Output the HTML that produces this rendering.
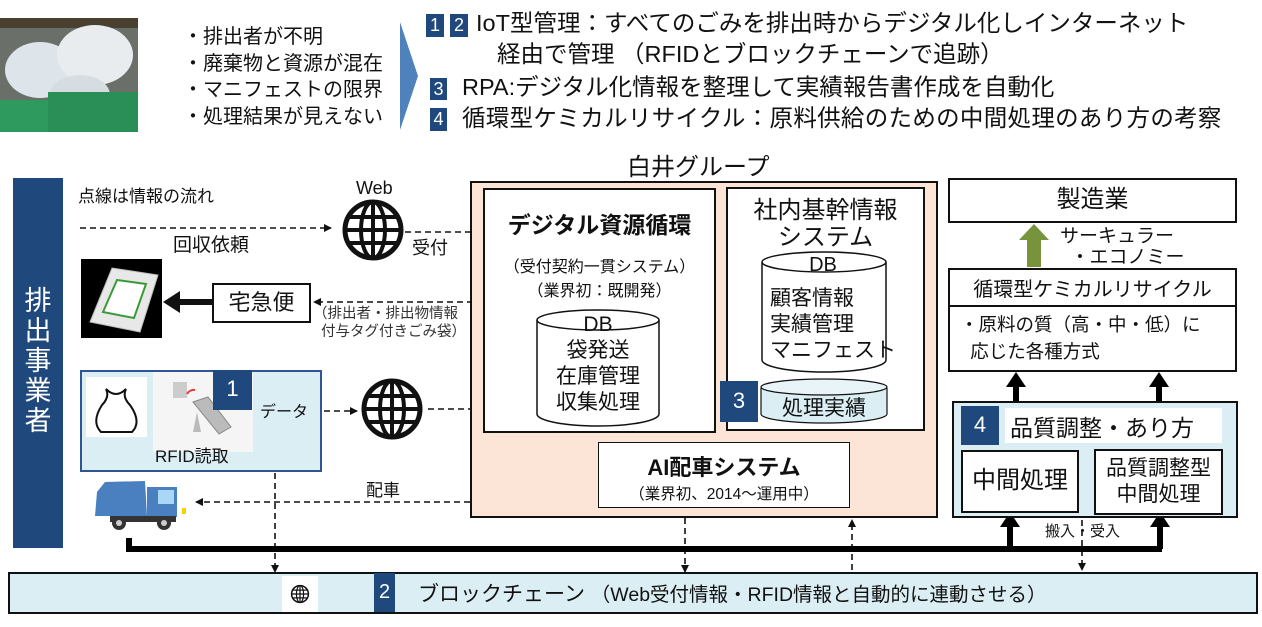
<!DOCTYPE html>
<html><head><meta charset="utf-8"><style>
body{margin:0;width:1262px;height:627px;background:#fff;position:relative;overflow:hidden;font-family:"Liberation Sans","Noto Sans CJK JP",sans-serif;color:#111}
.a{position:absolute;white-space:nowrap}
.box{position:absolute;box-sizing:border-box;border:2.5px solid #111;background:#fff}
.bd{position:absolute;background:#1f497d;color:#fff;text-align:center;font-size:18px}
</style></head><body>
<svg class="a" style="left:0;top:0" width="1262" height="627">
<defs>
<marker id="ah" markerWidth="8" markerHeight="8" refX="7" refY="4" orient="auto" markerUnits="userSpaceOnUse"><path d="M0,0 L8,4 L0,8z" fill="#111"/></marker>
<g id="globe"><circle r="28" fill="none" stroke="#111" stroke-width="5"/><ellipse rx="12" ry="28" fill="none" stroke="#111" stroke-width="4"/><line x1="0" y1="-28" x2="0" y2="28" stroke="#111" stroke-width="4"/><line x1="-28" y1="0" x2="28" y2="0" stroke="#111" stroke-width="4"/><line x1="-24" y1="-13" x2="24" y2="-13" stroke="#111" stroke-width="4"/><line x1="-24" y1="13" x2="24" y2="13" stroke="#111" stroke-width="4"/></g>
</defs>
<rect x="0" y="18" width="138" height="114" fill="#6b6f6a"/>
<rect x="0" y="18" width="138" height="10" fill="#4a4030"/>
<ellipse cx="40" cy="70" rx="35" ry="28" fill="#dde4ea"/><ellipse cx="95" cy="55" rx="38" ry="30" fill="#e8ecef"/><ellipse cx="80" cy="95" rx="30" ry="20" fill="#d5dde2"/>
<rect x="0" y="100" width="60" height="32" fill="#2e9a5e"/><rect x="48" y="92" width="90" height="40" fill="#2a8f57"/>
<path d="M400,22 L418,76 L400,130 Z" fill="#4f81bd"/>
<g stroke="#111" stroke-width="1.6" stroke-dasharray="6,4" fill="none">
<line x1="80" y1="228" x2="331" y2="228" marker-end="url(#ah)"/>
<line x1="405" y1="232" x2="479" y2="232" marker-end="url(#ah)"/>
<line x1="483" y1="302" x2="314" y2="302" marker-end="url(#ah)"/>
<line x1="324" y1="411" x2="357" y2="411" marker-end="url(#ah)"/>
<line x1="428" y1="409" x2="481" y2="409" marker-end="url(#ah)"/>
<line x1="600" y1="502" x2="196" y2="502" marker-end="url(#ah)"/>
<line x1="275" y1="473" x2="275" y2="572" marker-end="url(#ah)"/>
<line x1="685" y1="508" x2="685" y2="572" marker-end="url(#ah)"/>
<line x1="852" y1="570" x2="852" y2="520" marker-end="url(#ah)"/>
<line x1="1082" y1="520" x2="1082" y2="570" marker-end="url(#ah)"/>
</g>
<use href="#globe" x="373" y="230"/>
<use href="#globe" x="392" y="409"/>
<rect x="81" y="259" width="81" height="79" fill="#000"/>
<path d="M90,322 L112,268 L158,275 L140,332 Z" fill="#e8e8e8" stroke="#bbb"/>
<path d="M103,312 L117,280 L146,284 L134,318 Z" fill="#fff" stroke="#3a9a3a" stroke-width="2"/>
<line x1="212" y1="302" x2="176" y2="302" stroke="#111" stroke-width="6"/>
<path d="M163,302 L180,291 L180,313 Z" fill="#111"/>
<path d="M97,492 L105,482 L145,481 L147,516 L95,516 Z" fill="#4a7fc0"/>
<rect x="147" y="487" width="30" height="30" fill="#4a7fc0"/>
<rect x="158" y="490" width="16" height="14" fill="#a8d8f5"/>
<rect x="110" y="516" width="66" height="6" fill="#333"/>
<circle cx="119" cy="523" r="7" fill="#333"/><circle cx="119" cy="523" r="3" fill="#ccc"/>
<circle cx="164" cy="523" r="7" fill="#333"/><circle cx="164" cy="523" r="3" fill="#ccc"/>
<rect x="182" y="508" width="4" height="6" fill="#f5d400"/>
<polyline points="129,538 129,549 1162,549" fill="none" stroke="#000" stroke-width="6"/>
<line x1="1010" y1="549" x2="1010" y2="525" stroke="#000" stroke-width="6"/>
<path d="M1010,512 L1000,527 L1020,527 Z" fill="#000"/>
<line x1="1160" y1="549" x2="1160" y2="525" stroke="#000" stroke-width="6"/>
<path d="M1160,512 L1150,527 L1170,527 Z" fill="#000"/>
<line x1="1016" y1="402" x2="1016" y2="385" stroke="#000" stroke-width="6"/>
<path d="M1016,372 L1006,387 L1026,387 Z" fill="#000"/>
<line x1="1159" y1="402" x2="1159" y2="385" stroke="#000" stroke-width="6"/>
<path d="M1159,372 L1149,387 L1169,387 Z" fill="#000"/>
<path d="M1034,224 L1049,240 L1041,240 L1041,267 L1027,267 L1027,240 L1019,240 Z" fill="#77933c"/>
</svg>

<div class="a" style="left:183px;top:24px;font-size:20px;line-height:26.5px">・排出者が不明<br>・廃棄物と資源が混在<br>・マニフェストの限界<br>・処理結果が見えない</div>

<div class="bd" style="left:426px;top:14px;width:18px;height:23px;line-height:23px">1</div>
<div class="bd" style="left:450px;top:14px;width:18px;height:23px;line-height:23px">2</div>
<div class="a" style="left:476px;top:9px;font-size:23.5px;line-height:28px">IoT型管理：すべてのごみを排出時からデジタル化しインターネット</div>
<div class="a" style="left:497px;top:40px;font-size:23.5px;line-height:28px">経由で管理 （RFIDとブロックチェーンで追跡）</div>
<div class="bd" style="left:430px;top:78px;width:17px;height:22px;line-height:22px">3</div>
<div class="a" style="left:462px;top:73px;font-size:23.5px;line-height:28px">RPA:デジタル化情報を整理して実績報告書作成を自動化</div>
<div class="bd" style="left:430px;top:108px;width:17px;height:23px;line-height:23px">4</div>
<div class="a" style="left:462px;top:104px;font-size:23.5px;line-height:28px;letter-spacing:0.3px">循環型ケミカルリサイクル：原料供給のための中間処理のあり方の考察</div>

<div class="a" style="left:627px;top:147px;font-size:24px">白井グループ</div>

<div class="a" style="left:13px;top:178px;width:50px;height:370px;background:#1f497d"></div>
<div class="a" style="left:21px;top:286px;width:34px;font-size:27px;line-height:30px;color:#fff;white-space:normal;text-align:center">排出事業者</div>

<div class="a" style="left:78px;top:182px;font-size:17px">点線は情報の流れ</div>
<div class="a" style="left:356px;top:178px;font-size:18px">Web</div>
<div class="a" style="left:173px;top:230px;font-size:19px">回収依頼</div>
<div class="a" style="left:412px;top:234px;font-size:18px">受付</div>

<div class="box" style="left:212px;top:283px;width:99px;height:40px;font-size:22px;text-align:center;line-height:35px">宅急便</div>
<div class="a" style="left:313px;top:305px;font-size:14.5px;line-height:18px;color:#333">（排出者・排出物情報<br>&nbsp;&nbsp;付与タグ付きごみ袋）</div>

<div class="a" style="left:80px;top:370px;width:242px;height:102px;box-sizing:border-box;border:2px solid #2f5597;background:#dbeef4"></div>
<div class="a" style="left:86px;top:377px;width:61px;height:60px;background:#fff"></div>
<svg class="a" style="left:86px;top:377px" width="61" height="60"><path d="M20,12 Q30,22 40,12 Q36,20 44,28 Q56,45 46,55 L15,55 Q5,45 16,28 Q24,20 20,12Z" fill="#fff" stroke="#111" stroke-width="2"/></svg>
<div class="a" style="left:153px;top:372px;width:100px;height:80px;background:#f5f5f5"></div>
<svg class="a" style="left:153px;top:372px" width="100" height="80"><rect x="20" y="10" width="14" height="16" fill="#ccc"/><path d="M40,30 L55,25 L78,55 L66,62 Z" fill="#bbb" stroke="#888"/><path d="M44,40 L40,60 L48,60 Z" fill="#bbb"/><path d="M34,22 a8,8 0 0 1 8,-4" stroke="#e33" fill="none" stroke-width="2"/></svg>
<div class="bd" style="left:213px;top:370px;width:39px;height:40px;line-height:38px;font-size:22px">1</div>
<div class="a" style="left:260px;top:398px;font-size:16px">データ</div>
<div class="a" style="left:155px;top:442px;font-size:17px">RFID読取</div>

<div class="a" style="left:470px;top:181px;width:468px;height:337px;box-sizing:border-box;border:2.5px solid #111;background:#fce4d6"></div>
<div class="box" style="left:483px;top:188px;width:233px;height:245px"></div>
<div class="a" style="left:483px;top:206px;width:233px;text-align:center;font-size:23px;font-weight:bold">デジタル資源循環</div>
<div class="a" style="left:483px;top:256px;width:233px;text-align:center;font-size:16px;line-height:24px">（受付契約一貫システム）<br>（業界初：既開発）</div>
<svg class="a" style="left:535px;top:308px" width="130" height="122"><path d="M2,12 L2,106 A61,12 0 0 0 124,106 L124,12" fill="#fff" stroke="#111" stroke-width="1.5"/><ellipse cx="63" cy="12" rx="61" ry="10" fill="#fff" stroke="#111" stroke-width="1.5"/></svg>
<div class="a" style="left:535px;top:312px;width:126px;text-align:center;font-size:21px;line-height:26px">DB<br>袋発送<br>在庫管理<br>収集処理</div>

<div class="box" style="left:726px;top:187px;width:199px;height:244px"></div>
<div class="a" style="left:726px;top:197px;width:199px;text-align:center;font-size:24px;line-height:27px">社内基幹情報<br>システム</div>
<svg class="a" style="left:760px;top:250px" width="130" height="176"><path d="M2,12 L2,110 A62,12 0 0 0 126,110 L126,12" fill="#fff" stroke="#111" stroke-width="1.5"/><ellipse cx="64" cy="12" rx="62" ry="10" fill="#fff" stroke="#111" stroke-width="1.5"/><path d="M1,138 L1,164 A63,9 0 0 0 127,164 L127,138" fill="#dbeef4" stroke="#111" stroke-width="1.2"/><ellipse cx="64" cy="137" rx="63" ry="8" fill="#e8f4f8" stroke="#111" stroke-width="1.2"/></svg>
<div class="a" style="left:760px;top:254px;width:126px;text-align:center;font-size:20px">DB</div>
<div class="a" style="left:770px;top:286px;font-size:21px;line-height:26px">顧客情報<br>実績管理<br>マニフェスト</div>
<div class="a" style="left:782px;top:392px;font-size:21px">処理実績</div>
<div class="bd" style="left:720px;top:381px;width:38px;height:41px;line-height:40px;font-size:22px">3</div>

<div class="box" style="left:598px;top:442px;width:252px;height:66px;border-width:1.5px"></div>
<div class="a" style="left:598px;top:450px;width:252px;text-align:center;font-size:22px;font-weight:bold">AI配車システム</div>
<div class="a" style="left:598px;top:482px;width:252px;text-align:center;font-size:15.5px">（業界初、2014～運用中）</div>
<div class="a" style="left:366px;top:476px;font-size:17px">配車</div>

<div class="box" style="left:948px;top:178px;width:289px;height:45px;font-size:24px;text-align:center;line-height:40px">製造業</div>
<div class="a" style="left:1060px;top:226px;font-size:19px;line-height:21px">サーキュラー<br>&nbsp;&nbsp;・エコノミー</div>
<div class="box" style="left:948px;top:268px;width:289px;height:104px"></div>
<div class="a" style="left:948px;top:305px;width:289px;height:2px;background:#111"></div>
<div class="a" style="left:948px;top:273px;width:289px;text-align:center;font-size:20px">循環型ケミカルリサイクル</div>
<div class="a" style="left:960px;top:311px;font-size:18.5px;line-height:27px">・原料の質（高・中・低）に<br>&nbsp;&nbsp;応じた各種方式</div>

<div class="a" style="left:952px;top:401px;width:286px;height:117px;box-sizing:border-box;border:2.5px solid #111;background:#dbeef4"></div>
<div class="a" style="left:1005px;top:408px;width:217px;height:35px;background:#fff"></div>
<div class="bd" style="left:961px;top:406px;width:38px;height:39px;line-height:38px;font-size:22px">4</div>
<div class="a" style="left:1010px;top:409px;font-size:23px">品質調整・あり方</div>
<div class="box" style="left:961px;top:450px;width:118px;height:63px;font-size:24px;text-align:center;line-height:58px">中間処理</div>
<div class="box" style="left:1094px;top:449px;width:129px;height:66px;font-size:21px;text-align:center;line-height:26px;padding-top:5px">品質調整型<br>中間処理</div>
<div class="a" style="left:1045px;top:520px;font-size:15px">搬入・受入</div>

<div class="a" style="left:8px;top:572px;width:1250px;height:42px;box-sizing:border-box;border:2.5px solid #111;background:#dbeef4"></div>
<div class="a" style="left:282px;top:576px;width:36px;height:36px;background:#fff"></div>
<svg class="a" style="left:290px;top:584px" width="20" height="20"><g transform="translate(10,10) scale(0.3)"><use href="#globe"/></g></svg>
<div class="bd" style="left:374px;top:573px;width:21px;height:39px;line-height:39px;font-size:20px">2</div>
<div class="a" style="left:418px;top:578px;font-size:21px">ブロックチェーン <span style="font-size:19.5px">（Web受付情報・RFID情報と自動的に連動させる）</span></div>
</body></html>
